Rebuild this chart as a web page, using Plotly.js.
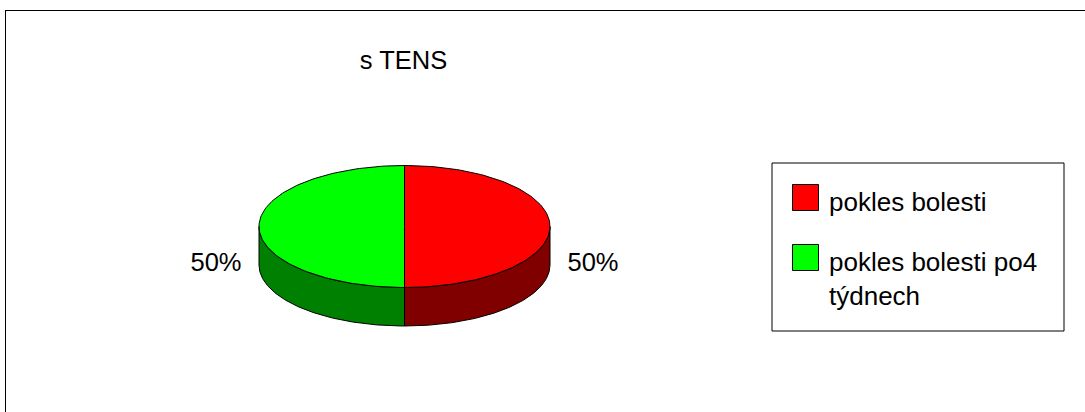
<!DOCTYPE html>
<html>
<head>
<meta charset="utf-8">
<script src="https://cdn.plot.ly/plotly-3.0.1.min.js"></script>
<style>html,body{margin:0;padding:0;background:#fff;}#chart{width:1085px;height:412px;}</style>
</head>
<body>
<div id="chart"></div>
<script>
// ---- data ----
const chartTitle = 's TENS';
const categories = ['pokles bolesti', 'pokles bolesti po4 týdnech'];
const values = [50, 50];

// ---- styles / geometry ----
const topColors = ['#FF0000', '#00FF00'];
const sideColors = ['#800000', '#008000'];
const FONT = 'Liberation Sans, Arial, sans-serif';
const FS = 25.5;
const LFS = 26;
const cx = 404.5, cy = 226.5, rx = 145.5, ry = 61, depth = 38.5;
const labelR = 188.5;

function wrap(s, max) {
  const words = s.split(' ');
  const lines = [];
  let cur = '';
  words.forEach(w => {
    if (cur && (cur + ' ' + w).length > max) { lines.push(cur); cur = w; }
    else cur = cur ? cur + ' ' + w : w;
  });
  if (cur) lines.push(cur);
  return lines.join('<br>');
}

const total = values.reduce((a, b) => a + b, 0);
const traces = [];
const sideTraces = [];
const topTraces = [];
const labelX = [], labelY = [], labelT = [];
let acc = 0;
values.forEach((v, i) => {
  const a0 = acc / total * 2 * Math.PI;
  const a1 = (acc + v) / total * 2 * Math.PI;
  acc += v;
  const steps = 120;
  // top face
  const tx = [cx], ty = [cy];
  for (let k = 0; k <= steps; k++) {
    const t = a0 + (a1 - a0) * k / steps;
    tx.push(cx + rx * Math.sin(t));
    ty.push(cy - ry * Math.cos(t));
  }
  tx.push(cx); ty.push(cy);
  topTraces.push({
    type: 'scatter', mode: 'lines', x: tx, y: ty, fill: 'toself',
    fillcolor: topColors[i], line: {color: '#000', width: 1},
    hoverinfo: 'skip', showlegend: false
  });
  // visible side (front half: PI/2 .. 3PI/2)
  const b0 = Math.max(a0, Math.PI / 2), b1 = Math.min(a1, 3 * Math.PI / 2);
  if (b1 > b0) {
    const sx = [], sy = [];
    for (let k = 0; k <= steps; k++) {
      const t = b0 + (b1 - b0) * k / steps;
      sx.push(cx + rx * Math.sin(t)); sy.push(cy - ry * Math.cos(t));
    }
    for (let k = steps; k >= 0; k--) {
      const t = b0 + (b1 - b0) * k / steps;
      sx.push(cx + rx * Math.sin(t)); sy.push(cy - ry * Math.cos(t) + depth);
    }
    sx.push(sx[0]); sy.push(sy[0]);
    sideTraces.push({
      type: 'scatter', mode: 'lines', x: sx, y: sy, fill: 'toself',
      fillcolor: sideColors[i], line: {color: '#000', width: 1},
      hoverinfo: 'skip', showlegend: false
    });
  }
  const mid = (a0 + a1) / 2;
  labelX.push(cx + labelR * Math.sin(mid));
  labelY.push(cy - ry * Math.cos(mid) + depth);
  labelT.push(Math.round(v / total * 100) + '%');
});

traces.push(...sideTraces, ...topTraces);
traces.push({
  type: 'scatter', mode: 'text', x: labelX, y: labelY, text: labelT,
  textposition: 'middle center', textfont: {family: FONT, size: FS, color: '#000'},
  hoverinfo: 'skip', showlegend: false
});

// manual legend
const legX = 805.5, legY0 = 197.5, legDy = 60;
traces.push({
  type: 'scatter', mode: 'markers',
  x: categories.map(() => legX), y: categories.map((c, i) => legY0 + i * legDy),
  marker: {symbol: 'square', size: 26, color: topColors, line: {color: '#000', width: 1}},
  hoverinfo: 'skip', showlegend: false
});
const annotations = categories.map((c, i) => ({
  x: 827, y: legY0 + i * legDy - 13, xref: 'x', yref: 'y', xanchor: 'left', yanchor: 'top',
  text: wrap(c, 19), showarrow: false, align: 'left',
  font: {family: FONT, size: LFS, color: '#000'}
}));

const layout = {
  width: 1085, height: 412,
  margin: {l: 0, r: 0, t: 0, b: 0},
  paper_bgcolor: '#fff', plot_bgcolor: '#fff',
  showlegend: false,
  title: {text: chartTitle, x: 403.5 / 1085, xanchor: 'center', xref: 'paper', y: 1 - 60 / 412, yanchor: 'middle', yref: 'paper',
          font: {family: FONT, size: FS, color: '#000'}},
  xaxis: {range: [0, 1085], visible: false, fixedrange: true},
  yaxis: {range: [412, 0], visible: false, fixedrange: true},
  annotations: annotations,
  shapes: [
    {type: 'rect', xref: 'x', yref: 'y', x0: 772, x1: 1064, y0: 163, y1: 331, line: {color: '#000', width: 1}},
    {type: 'line', xref: 'x', yref: 'y', x0: 5, x1: 1085, y0: 10.5, y1: 10.5, line: {color: '#000', width: 1}},
    {type: 'line', xref: 'x', yref: 'y', x0: 5.5, x1: 5.5, y0: 10, y1: 412, line: {color: '#000', width: 1}}
  ]
};

Plotly.newPlot('chart', traces, layout, {staticPlot: true, displayModeBar: false});
</script>
</body>
</html>
